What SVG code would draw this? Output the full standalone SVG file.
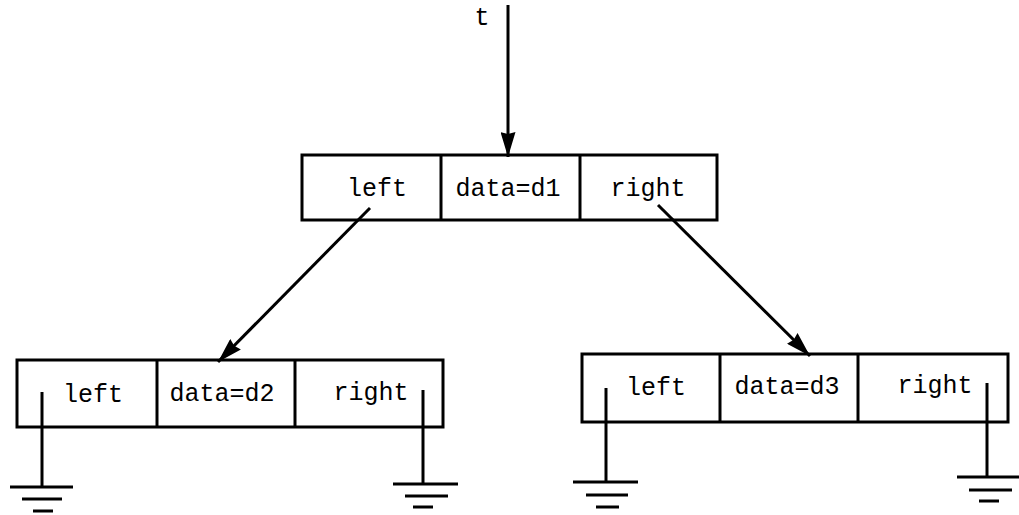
<svg xmlns="http://www.w3.org/2000/svg" width="1019" height="515" viewBox="0 0 1019 515">
  <style>
    .box { fill: none; stroke: #000; stroke-width: 3; }
    .wire { fill: none; stroke: #000; stroke-width: 3; }
    .lbl { font-family: "Liberation Mono", "Courier New", monospace; font-size: 25px; fill: #000; text-anchor: middle; }
  </style>
  <defs>
    <marker id="head" viewBox="0 0 25 15" refX="25" refY="7.5" markerWidth="25" markerHeight="15" markerUnits="userSpaceOnUse" orient="auto">
      <path d="M0,0 L25,7.5 L0,15 L2,7.5 Z" fill="#000"/>
    </marker>
  </defs>

  <text class="lbl" x="482" y="25">t</text>

  <!-- root node -->
  <g id="node-d1">
    <rect class="box" x="302" y="155" width="415" height="65"/>
    <line class="box" x1="441" y1="155" x2="441" y2="220"/>
    <line class="box" x1="580" y1="155" x2="580" y2="220"/>
    <text class="lbl" x="377" y="196">left</text>
    <text class="lbl" x="508" y="196">data=d1</text>
    <text class="lbl" x="648" y="196">right</text>
  </g>

  <!-- left child -->
  <g id="node-d2">
    <rect class="box" x="17" y="360" width="426" height="67"/>
    <line class="box" x1="157" y1="360" x2="157" y2="427"/>
    <line class="box" x1="295" y1="360" x2="295" y2="427"/>
    <text class="lbl" x="93" y="402">left</text>
    <text class="lbl" x="222" y="401">data=d2</text>
    <text class="lbl" x="371" y="400">right</text>
  </g>

  <!-- right child -->
  <g id="node-d3">
    <rect class="box" x="582" y="354" width="426" height="68"/>
    <line class="box" x1="720" y1="354" x2="720" y2="422"/>
    <line class="box" x1="858" y1="354" x2="858" y2="422"/>
    <text class="lbl" x="656" y="395">left</text>
    <text class="lbl" x="787" y="394">data=d3</text>
    <text class="lbl" x="935" y="393">right</text>
  </g>

  <!-- null pointers drawn as ground symbols -->
  <g id="ground-d2-left">
    <line class="wire" x1="42" y1="392" x2="42" y2="487"/>
    <line class="wire" x1="10" y1="487" x2="73" y2="487"/>
    <line class="wire" x1="22" y1="499" x2="62" y2="499"/>
    <line class="wire" x1="33" y1="511" x2="53" y2="511"/>
  </g>
  <g id="ground-d2-right">
    <line class="wire" x1="423" y1="390" x2="423" y2="484"/>
    <line class="wire" x1="393" y1="484" x2="458" y2="484"/>
    <line class="wire" x1="405" y1="496" x2="448" y2="496"/>
    <line class="wire" x1="413" y1="507" x2="433" y2="507"/>
  </g>
  <g id="ground-d3-left">
    <line class="wire" x1="606" y1="388" x2="606" y2="482"/>
    <line class="wire" x1="573" y1="482" x2="638" y2="482"/>
    <line class="wire" x1="586" y1="495" x2="628" y2="495"/>
    <line class="wire" x1="596" y1="507" x2="619" y2="507"/>
  </g>
  <g id="ground-d3-right">
    <line class="wire" x1="987" y1="383" x2="987" y2="477"/>
    <line class="wire" x1="957" y1="477" x2="1019" y2="477"/>
    <line class="wire" x1="969" y1="490" x2="1012" y2="490"/>
    <line class="wire" x1="979" y1="501" x2="999" y2="501"/>
  </g>

  <!-- pointers -->
  <g id="connectors">
    <line class="wire" x1="508" y1="5" x2="508" y2="157" marker-end="url(#head)"/>
    <line class="wire" x1="370" y1="208" x2="218" y2="362" marker-end="url(#head)"/>
    <line class="wire" x1="658" y1="205" x2="810" y2="356" marker-end="url(#head)"/>
  </g>
</svg>
